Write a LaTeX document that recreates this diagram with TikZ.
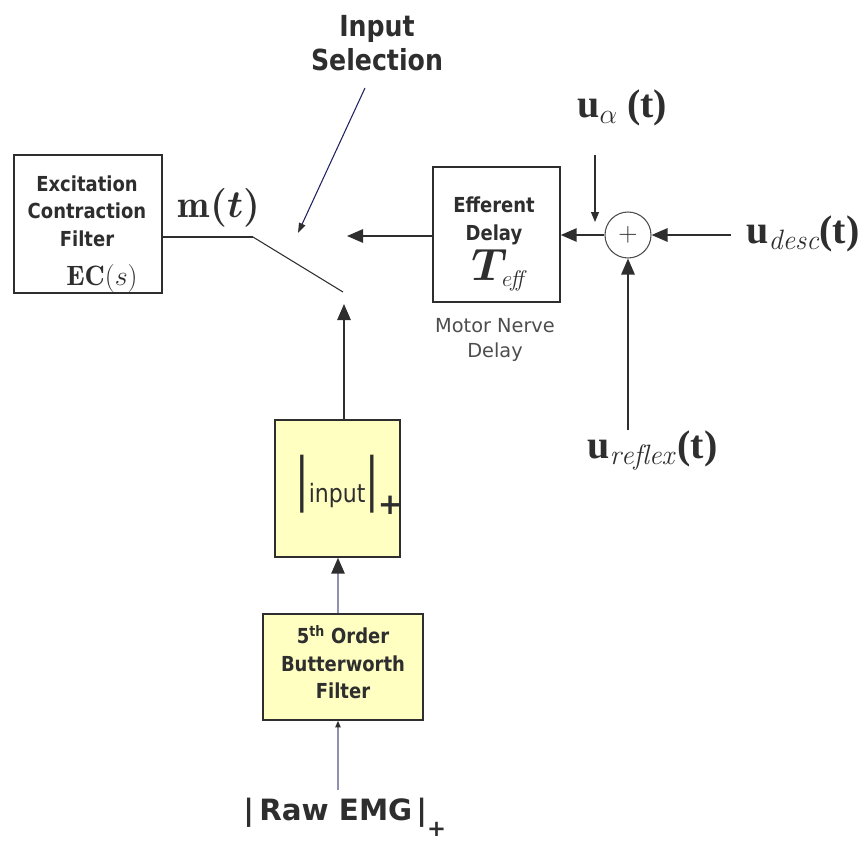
\RequirePackage{fix-cm}
\documentclass[tikz,border=0pt]{standalone}
\usepackage{amsmath}
\usepackage{fontspec}
\setsansfont{DejaVu Sans}
\newfontfamily\lblfont[FakeStretch=0.87]{DejaVu Sans}
\newfontfamily\tmsfont{Liberation Serif}
\usepackage{graphicx}
\usetikzlibrary{arrows.meta}
\definecolor{ink}{HTML}{2E2E2E}
\definecolor{fillY}{HTML}{FFFFC2}
\definecolor{blu}{HTML}{9090B0}
\begin{document}
\begin{tikzpicture}[x=0.75pt,y=-0.75pt,
  box/.style={draw=ink, line width=1.1pt, inner sep=0pt},
  ybox/.style={box, fill=fillY},
  lbl/.style={text=ink, font=\lblfont\bfseries\fontsize{15.5}{20.6}\selectfont, align=center, inner sep=0pt},
  note/.style={text=ink!85, font=\sffamily\fontsize{14.5}{19}\selectfont, align=center, inner sep=0pt},
  mth/.style={text=ink, inner sep=0pt},
  wire/.style={draw=ink, line width=1.4pt},
  arr/.style={wire, -{Triangle[length=12pt,width=10pt]}},
  thinarr/.style={draw=ink, line width=0.8pt, -{Triangle[length=7.5pt,width=6pt]}},
  bluarr/.style={draw=blu, line width=1.5pt, -{Triangle[length=12pt,width=10pt,color=ink]}},
  bluthin/.style={draw=blu, line width=1.1pt, -{Triangle[length=5pt,width=4pt,color=ink]}}]
\useasboundingbox (0,0) rectangle (861,846);

% Excitation contraction filter
\node[box, minimum width=111pt, minimum height=103.5pt] (ec) at (88,224) {};
\node[lbl] (ectxt) at (87,211) {Excitation\\Contraction\\Filter};
\node[mth, font=\fontsize{21}{24}\selectfont] (ecs) at (102,278) {$\mathbf{EC}(s)$};
\node[mth, font=\fontsize{29}{32}\selectfont] (mt) at (219,208) {$\mathbf{m}\boldsymbol{(t)}$};

% switch
\coordinate (sw1) at (253,237);
\coordinate (sw2) at (343,292);
\coordinate (swin) at (347,236);
\coordinate (swbot) at (344,304);
\draw[wire] (ec.east |- sw1) -- (sw1);
\draw[draw=ink, line width=0.8pt] (sw1) -- (sw2);

% input selection
\node[lbl, font=\lblfont\bfseries\fontsize{21.75}{25}\selectfont] (insel) at (377,43) {Input\\Selection};
\coordinate (selfrom) at (365,88);
\coordinate (selto) at (298,233);
\draw[draw=ink!75!blue, line width=0.8pt, -{Triangle[length=7.5pt,width=5pt,color=ink]}] (selfrom) -- (selto);

% efferent delay
\node[box, minimum width=95.25pt, minimum height=101.25pt] (eff) at (496.5,234.5) {};
\node[lbl] (efftxt) at (494,221) {Efferent\\Delay};
\node[mth, anchor=base west, font=\fontsize{34}{36}\selectfont] (teff) at (471,280) {$\boldsymbol{T}_{\!\scriptscriptstyle e\!f\!\!f}$};
\node[note] (motor) at (495,340) {Motor Nerve\\Delay};
\draw[arr] (eff.west |- swin) -- (swin);

% sum junction
\node[draw=ink!85, line width=0.8pt, circle, minimum size=34.5pt, inner sep=0pt, font=\fontsize{20}{20}\selectfont, text=ink] (sum) at (628,235) {$+$};
\draw[arr] (sum.west) -- (sum.west -| eff.east);

\node[mth, anchor=base west, font=\fontsize{30}{32}\selectfont] (ua) at (577,117) {{\tmsfont\bfseries u}$_{\alpha}$\kern7pt{\tmsfont\bfseries (t)}};
\coordinate (uafrom) at (595,155);
\coordinate (uato) at (595,222);
\draw[thinarr] (uafrom) -- (uato);

\node[mth, anchor=base west, font=\fontsize{30}{32}\selectfont] (ud) at (746,243) {{\tmsfont\bfseries u}$_{\mathit{desc}}${\tmsfont\bfseries (t)}};
\coordinate (udfrom) at (731,235);
\draw[arr] (udfrom) -- (sum.east);

\node[mth, anchor=base west, font=\fontsize{30}{32}\selectfont] (ur) at (587,458) {{\tmsfont\bfseries u}$_{\mathit{reflex}}$\kern2pt{\tmsfont\bfseries (t)}};
\coordinate (urfrom) at (628,430);
\draw[arr] (urfrom) -- (sum.south);

% |input|+
\node[ybox, minimum width=93.75pt, minimum height=102.75pt] (inp) at (337.5,488.5) {};
\node[text=ink, inner sep=0pt, anchor=base west, font=\lblfont\fontsize{19}{20}\selectfont] (inptxt) at (295,502) {\raisebox{2.25pt}{\fontsize{43.5}{44}\selectfont\scalebox{0.8}[1]{|}}input\raisebox{2.25pt}{\fontsize{43.5}{44}\selectfont\scalebox{0.8}[1]{|}}\kern-1pt\raisebox{-9pt}{\sffamily\bfseries\fontsize{22}{22}\selectfont +}};
\draw[arr] (inp.north -| swbot) -- (swbot);

% Butterworth
\node[ybox, minimum width=120pt, minimum height=79.5pt] (bw) at (343,667) {};
\node[lbl] (bwtxt) at (343,662) {5\textsuperscript{th} Order\\Butterworth\\Filter};
\coordinate (bwx) at (338,0);
\draw[bluarr] (bw.north -| bwx) -- (inp.south -| bwx);

% Raw EMG
\node[text=ink, inner sep=0pt, anchor=base west, font=\sffamily\bfseries\fontsize{22}{24}\selectfont] (raw) at (243,820) {|\kern4pt Raw EMG\kern3pt|\raisebox{-12.5pt}{\fontsize{17}{17}\selectfont +}};
\coordinate (rawfrom) at (338,790);
\draw[bluthin] (rawfrom) -- (bw.south -| rawfrom);
\end{tikzpicture}
\end{document}
